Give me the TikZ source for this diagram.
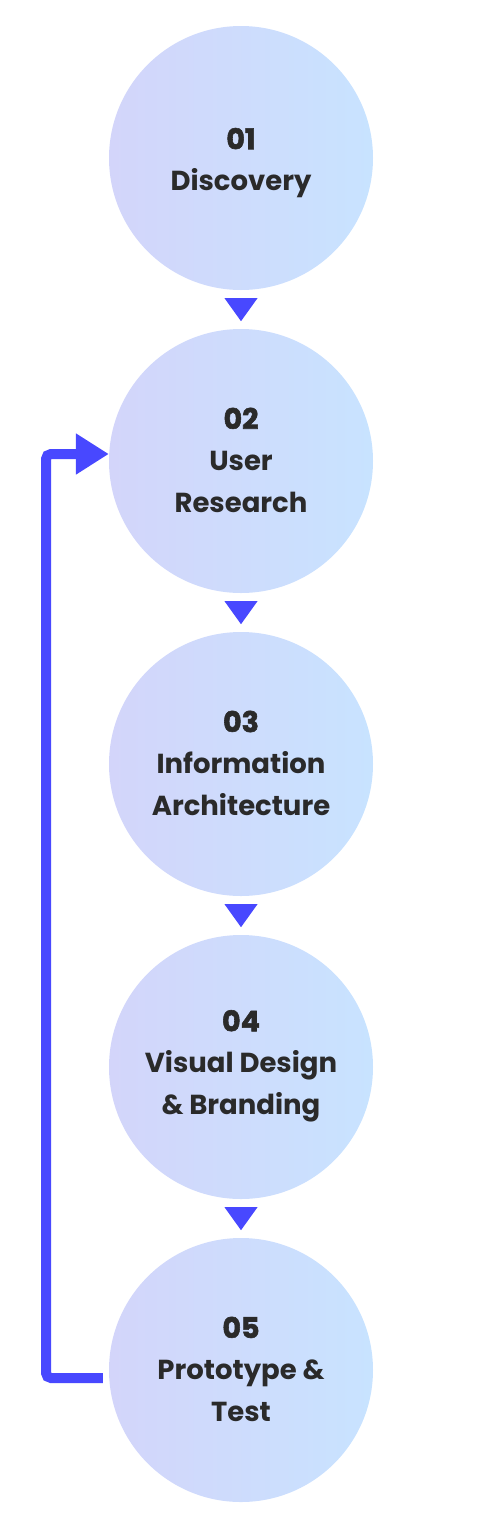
\documentclass[tikz,border=0pt]{standalone}
\usepackage{fontspec}
\setmainfont{Poppins}
\newfontfamily\numfont{Poppins}[BoldFeatures={FakeBold=2}]
\usetikzlibrary{arrows.meta,calc}
\definecolor{flowblue}{RGB}{72,72,255}
\definecolor{gradl}{RGB}{211,213,250}
\definecolor{gradr}{RGB}{200,227,255}
\definecolor{txt}{RGB}{42,42,42}
\tikzset{
  stepcircle/.style={circle, minimum size=264pt, inner sep=0pt,
    left color=gradl, right color=gradr, draw=none},
  steptext/.style={font=\fontsize{27.5}{41.5}\selectfont\bfseries, text=txt,
    align=center, inner sep=0pt},
  downtri/.style={fill=flowblue},
  loopline/.style={draw=flowblue, line width=10pt, rounded corners=5pt,
    -{Triangle[length=33pt,width=39pt]}}
}
\newcommand{\numtxt}[1]{{\numfont\fontsize{28.5}{41.5}\selectfont\bfseries #1}}
\begin{document}
\begin{tikzpicture}[x=1pt,y=-1pt]
\useasboundingbox (0,0) rectangle (483,1529);
\node[stepcircle] (c1) at (241,158) {};
\node[stepcircle] (c2) at (241,461) {};
\node[stepcircle] (c3) at (241,764) {};
\node[stepcircle] (c4) at (241,1067) {};
\node[stepcircle] (c5) at (241,1370) {};
\node[steptext] (t1) at ($(c1.center)+(0,5)$) {\numtxt{01}\\Discovery};
\node[steptext] (t2) at ($(c2.center)+(0,-1)$) {\numtxt{02}\\User\\Research};
\node[steptext] (t3) at ($(c3.center)+(0,-1)$) {\numtxt{03}\\Information\\Architecture};
\node[steptext] (t4) at ($(c4.center)+(0,-1)$) {\numtxt{04}\\Visual Design\\\& Branding};
\node[steptext] (t5) at ($(c5.center)+(0,-1)$) {\numtxt{05}\\Prototype \&\\Test};
\foreach \a/\b in {c1/c2,c2/c3,c3/c4,c4/c5}{
  \fill[downtri] ($(\a.south)+(-16.5,8)$) -- ++(33,0) -- ++(-16.5,23) -- cycle;
}
\coordinate (fbstart) at ($(c5.west)+(-6,8)$);
\coordinate (fbend) at ($(c2.west)+(0,-7)$);
\draw[loopline] (fbstart) -- (46,1378) -- (46,454) -- (fbend);
\end{tikzpicture}
\end{document}
